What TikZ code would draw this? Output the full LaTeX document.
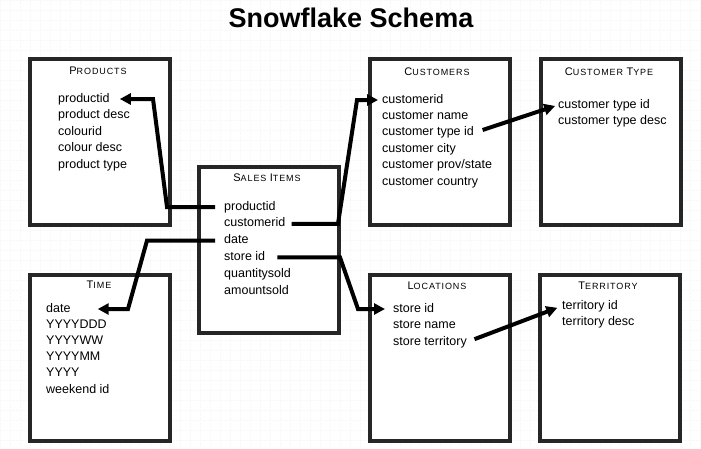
\documentclass[tikz,border=0pt]{standalone}
\usepackage{fontspec}
\setmainfont{Liberation Sans}
\usetikzlibrary{arrows.meta}

\newfontfamily\capsfont[LetterSpace=10]{Liberation Sans}
\newcommand{\tcap}[2]{{\fontsize{11}{12}\selectfont #1}{\fontsize{9}{10}\selectfont #2}}

\tikzset{
  tbl/.style={draw=black!85, line width=3.5pt, fill=white, anchor=north west,
    minimum width=140pt, minimum height=166pt, inner sep=0pt},
  tbltitle/.style={font=\capsfont, inner sep=0pt},
  field/.style={anchor=west, inner sep=0pt, text height=9pt, text depth=3pt,
    font=\fontsize{12.5}{14}\selectfont},
  fk/.style={line width=4pt, -{Triangle[length=11pt,width=11pt]}},
}

\begin{document}
\begin{tikzpicture}[x=1pt, y=-1pt]
            % canvas
            \fill[white] (0,0) rectangle (701,448);
            \useasboundingbox (0,0) rectangle (701,448);
            \draw[gray!5, densely dotted, line width=0.3pt] (0,0) grid[step=10pt] (701,448);

            % heading
            \node[font=\fontsize{27}{30}\selectfont\bfseries, anchor=base] (heading) at (351,27) {Snowflake Schema};

            % tables
            \node[tbl] (products) at (28,57) {};
            \node[tbl] (customers) at (368,57) {};
            \node[tbl] (custtype) at (539,57) {};
            \node[tbl] (sales) at (197,165) {};
            \node[tbl] (time) at (28,273) {};
            \node[tbl] (locations) at (368,273) {};
            \node[tbl] (territory) at (538,273) {};

            % table titles
            \node[tbltitle] (productsT) at (98,71) {\tcap{P}{RODUCTS}};
            \node[tbltitle] (customersT) at (437,72) {\tcap{C}{USTOMERS}};
            \node[tbltitle] (custtypeT) at (609,72) {\tcap{C}{USTOMER }\tcap{T}{YPE}};
            \node[tbltitle] (salesT) at (267,178) {\tcap{S}{ALES }\tcap{I}{TEMS}};
            \node[tbltitle] (timeT) at (99,285) {\tcap{T}{IME}};
            \node[tbltitle] (locationsT) at (437,286) {\tcap{L}{OCATIONS}};
            \node[tbltitle] (territoryT) at (608,286) {\tcap{T}{ERRITORY}};

            % fields
            \foreach \f [count=\i] in {productid, product desc, colourid, colour desc, product type}
                \node[field] (p\i) at (58,{99+16.5*(\i-1)}) {\f};
            \foreach \f [count=\i] in {productid, customerid, date, store id, quantitysold, amountsold}
                \node[field] (s\i) at (224,{207+16.8*(\i-1)}) {\f};
            \foreach \f [count=\i] in {customerid, customer name, customer type id, customer city, customer prov/state, customer country}
                \node[field] (c\i) at (382,{100+16.4*(\i-1)}) {\f};
            \foreach \f [count=\i] in {customer type id, customer type desc}
                \node[field] (ct\i) at (558,{105+16.4*(\i-1)}) {\f};
            \foreach \f [count=\i] in {date, YYYYDDD, YYYYWW, YYYYMM, YYYY, weekend id}
                \node[field] (t\i) at (46,{309+16.2*(\i-1)}) {\f};
            \foreach \f [count=\i] in {store id, store name, store territory}
                \node[field] (l\i) at (393,{309+16.5*(\i-1)}) {\f};
            \foreach \f [count=\i] in {territory id, territory desc}
                \node[field] (tr\i) at (562,{306+16.5*(\i-1)}) {\f};

            % foreign keys
            \draw[fk, shorten <=9pt, shorten >=10pt] (s1.west) -- (167,0 |- s1.west) -- (153,0 |- p1.east) -- (p1.east);
            \draw[fk, shorten <=6pt, shorten >=4pt] (s2.east) -- (338,0 |- s2.east) -- (357,0 |- c1.west) -- (c1.west);
            \draw[fk, shorten <=9pt, shorten >=27pt] (s3.west) -- (147,0 |- s3.west) -- (128,0 |- t1.east) -- (t1.east);
            \draw[fk, shorten <=12pt, shorten >=8pt] (s4.east) -- (340,0 |- s4.east) -- (358,0 |- l1.west) -- (l1.west);
            \draw[fk, shorten <=9pt, shorten >=3pt] (c3.east) -- (ct1.west);
            \draw[fk, shorten <=8pt, shorten >=5pt] (l3.east) -- (tr1.west);
        \end{tikzpicture}
\end{document}
